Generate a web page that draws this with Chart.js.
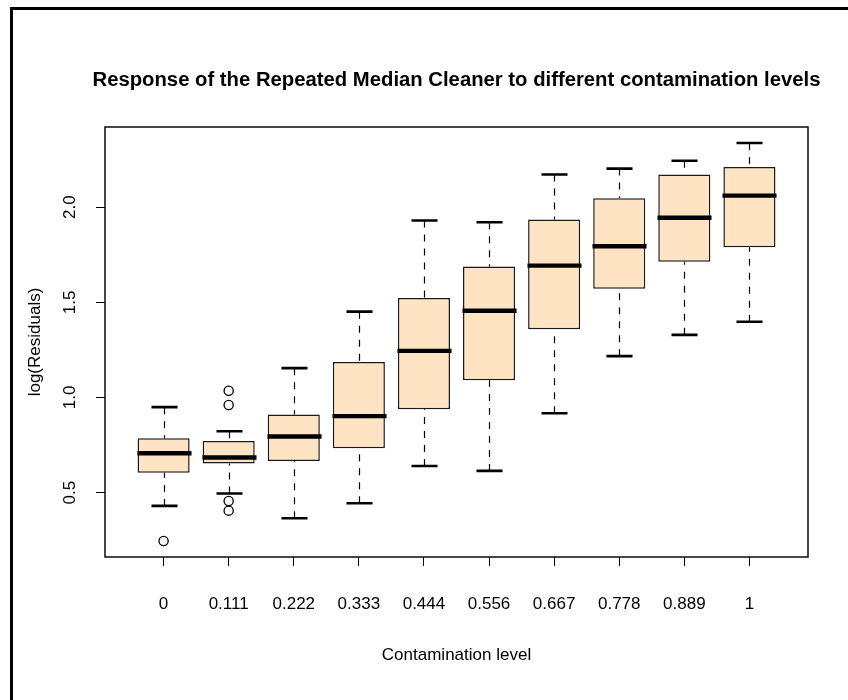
<!DOCTYPE html>
<html>
<head>
<meta charset="utf-8">
<title>Repeated Median Cleaner – contamination levels</title>
<script src="https://cdn.jsdelivr.net/npm/chart.js@4/dist/chart.umd.min.js"></script>
<style>
  html, body { margin: 0; padding: 0; background: #ffffff; }
  #wrap { position: relative; width: 848px; height: 700px; }
  canvas { display: block; }
</style>
</head>
<body>
<div id="wrap"><canvas id="chart" width="848" height="700"></canvas></div>
<script>
// Contamination levels (one box per level)
const levels = ['0', '0.111', '0.222', '0.333', '0.444', '0.556', '0.667', '0.778', '0.889', '1'];

// Five-number summaries of log(residuals) per level
const whiskerLow  = [0.430, 0.495, 0.365, 0.444, 0.640, 0.614, 0.917, 1.217, 1.329, 1.398];
const lowerQuart  = [0.604, 0.653, 0.666, 0.733, 0.938, 1.091, 1.358, 1.572, 1.714, 1.789];
const medians     = [0.707, 0.684, 0.795, 0.902, 1.245, 1.456, 1.693, 1.795, 1.945, 2.061];
const upperQuart  = [0.786, 0.771, 0.911, 1.187, 1.523, 1.688, 1.935, 2.047, 2.172, 2.212];
const whiskerHigh = [0.949, 0.822, 1.154, 1.451, 1.930, 1.921, 2.172, 2.203, 2.244, 2.338];

// Points beyond the whiskers: level index and value
const outlierLevel = [0, 1, 1, 1, 1];
const outlierValue = [0.245, 1.035, 0.960, 0.456, 0.405];

// Axis tick values
const yTicks = [0.5, 1.0, 1.5, 2.0];

const FONT = "'Liberation Sans', Arial, Helvetica, sans-serif";

// R-style axis limits: data range stretched by 4% on each side
const allVals = whiskerLow.concat(whiskerHigh, outlierValue);
const yLo = Math.min(...allVals), yHi = Math.max(...allVals);
const yPad = 0.04 * (yHi - yLo);
const xPad = 0.04 * levels.length;

const boxData = levels.map((_, i) => ({ x: i + 1, y: [lowerQuart[i], upperQuart[i]] }));
const outlierData = outlierLevel.map((lv, k) => ({ x: lv + 1, y: outlierValue[k] }));

// Whiskers, staples, medians, the plot frame and all text
const boxplotDecor = {
  id: 'boxplotDecor',
  afterDatasetsDraw(chart) {
    const { ctx, chartArea: a } = chart;
    const xs = chart.scales.x, ys = chart.scales.y;
    ctx.save();
    levels.forEach((_, i) => {
      const cx = Math.round(xs.getPixelForValue(i + 1)) + 0.5;
      const halfBox = xs.getPixelForValue(i + 1.4) - xs.getPixelForValue(i + 1);
      const halfCap = halfBox * 0.5;
      const yWl = ys.getPixelForValue(whiskerLow[i]);
      const yQ1 = ys.getPixelForValue(lowerQuart[i]);
      const yQ3 = ys.getPixelForValue(upperQuart[i]);
      const yWh = ys.getPixelForValue(whiskerHigh[i]);
      const yMd = ys.getPixelForValue(medians[i]);

      // dashed whiskers
      ctx.strokeStyle = '#000';
      ctx.lineWidth = 1.2;
      ctx.setLineDash([7, 7]);
      ctx.beginPath();
      ctx.moveTo(cx, yWl); ctx.lineTo(cx, yQ1);
      ctx.moveTo(cx, yWh); ctx.lineTo(cx, yQ3);
      ctx.stroke();
      ctx.setLineDash([]);

      // staples
      ctx.lineWidth = 2.6;
      ctx.beginPath();
      ctx.moveTo(cx - halfCap, yWl); ctx.lineTo(cx + halfCap, yWl);
      ctx.moveTo(cx - halfCap, yWh); ctx.lineTo(cx + halfCap, yWh);
      ctx.stroke();

      // median bar
      ctx.lineWidth = 4.4;
      ctx.beginPath();
      ctx.moveTo(cx - halfBox - 1, yMd); ctx.lineTo(cx + halfBox + 1, yMd);
      ctx.stroke();
    });

    // plot frame
    ctx.lineWidth = 1.6;
    ctx.strokeStyle = '#1a1a1a';
    ctx.strokeRect(a.left, a.top, a.right - a.left, a.bottom - a.top);
    ctx.restore();
  },
  afterDraw(chart) {
    const { ctx, chartArea: a } = chart;
    const xs = chart.scales.x, ys = chart.scales.y;
    const midX = (a.left + a.right) / 2;
    const midY = (a.top + a.bottom) / 2;
    ctx.save();
    ctx.fillStyle = '#000';
    ctx.textAlign = 'center';
    ctx.textBaseline = 'middle';

    // outer figure border (left and top edges)
    ctx.fillRect(10, 7, 3, chart.height - 7);
    ctx.fillRect(10, 7, chart.width - 10, 3);

    // main title
    ctx.font = 'bold 20.3px ' + FONT;
    ctx.fillText('Response of the Repeated Median Cleaner to different contamination levels', midX, 80);

    // x tick labels and title
    ctx.font = '17px ' + FONT;
    levels.forEach((lab, i) => {
      ctx.fillText(lab, xs.getPixelForValue(i + 1), 604);
    });
    ctx.fillText('Contamination level', midX, 655);

    // y tick labels and title, rotated
    yTicks.forEach(v => {
      ctx.save();
      ctx.translate(70, ys.getPixelForValue(v));
      ctx.rotate(-Math.PI / 2);
      ctx.fillText(v.toFixed(1), 0, 0);
      ctx.restore();
    });
    ctx.save();
    ctx.translate(35, midY);
    ctx.rotate(-Math.PI / 2);
    ctx.fillText('log(Residuals)', 0, 0);
    ctx.restore();

    ctx.restore();
  }
};

new Chart(document.getElementById('chart'), {
  type: 'bar',
  data: {
    datasets: [
      {
        type: 'bar',
        label: 'IQR',
        data: boxData,
        backgroundColor: '#FFE4C4',
        borderColor: '#1a1a1a',
        borderWidth: 1.5,
        borderSkipped: false,
        barPercentage: 0.8,
        categoryPercentage: 1.0,
        order: 2
      },
      {
        type: 'scatter',
        label: 'Outliers',
        data: outlierData,
        pointStyle: 'circle',
        pointRadius: 4.6,
        backgroundColor: 'rgba(0,0,0,0)',
        borderColor: '#000',
        borderWidth: 1.3,
        order: 1
      }
    ]
  },
  options: {
    responsive: false,
    animation: false,
    devicePixelRatio: 1,
    events: [],
    layout: { padding: { left: 0, top: 127, right: 40, bottom: 0 } },
    plugins: {
      legend: { display: false },
      tooltip: { enabled: false },
      title: { display: false }
    },
    scales: {
      x: {
        type: 'linear',
        offset: false,
        min: 0.5 - xPad,
        max: levels.length + 0.5 + xPad,
        afterBuildTicks: s => { s.ticks = levels.map((_, i) => ({ value: i + 1 })); },
        afterFit: s => { s.height = 143; },
        ticks: { display: false },
        border: { display: false },
        grid: { offset: false, drawOnChartArea: false, drawTicks: true, tickLength: 9, color: '#000', lineWidth: 1 }
      },
      y: {
        type: 'linear',
        min: yLo - yPad,
        max: yHi + yPad,
        afterBuildTicks: s => { s.ticks = yTicks.map(v => ({ value: v })); },
        afterFit: s => { s.width = 105; },
        ticks: { display: false },
        border: { display: false },
        grid: { drawOnChartArea: false, drawTicks: true, tickLength: 9, color: '#000', lineWidth: 1 }
      }
    }
  },
  plugins: [boxplotDecor]
});
</script>
</body>
</html>
